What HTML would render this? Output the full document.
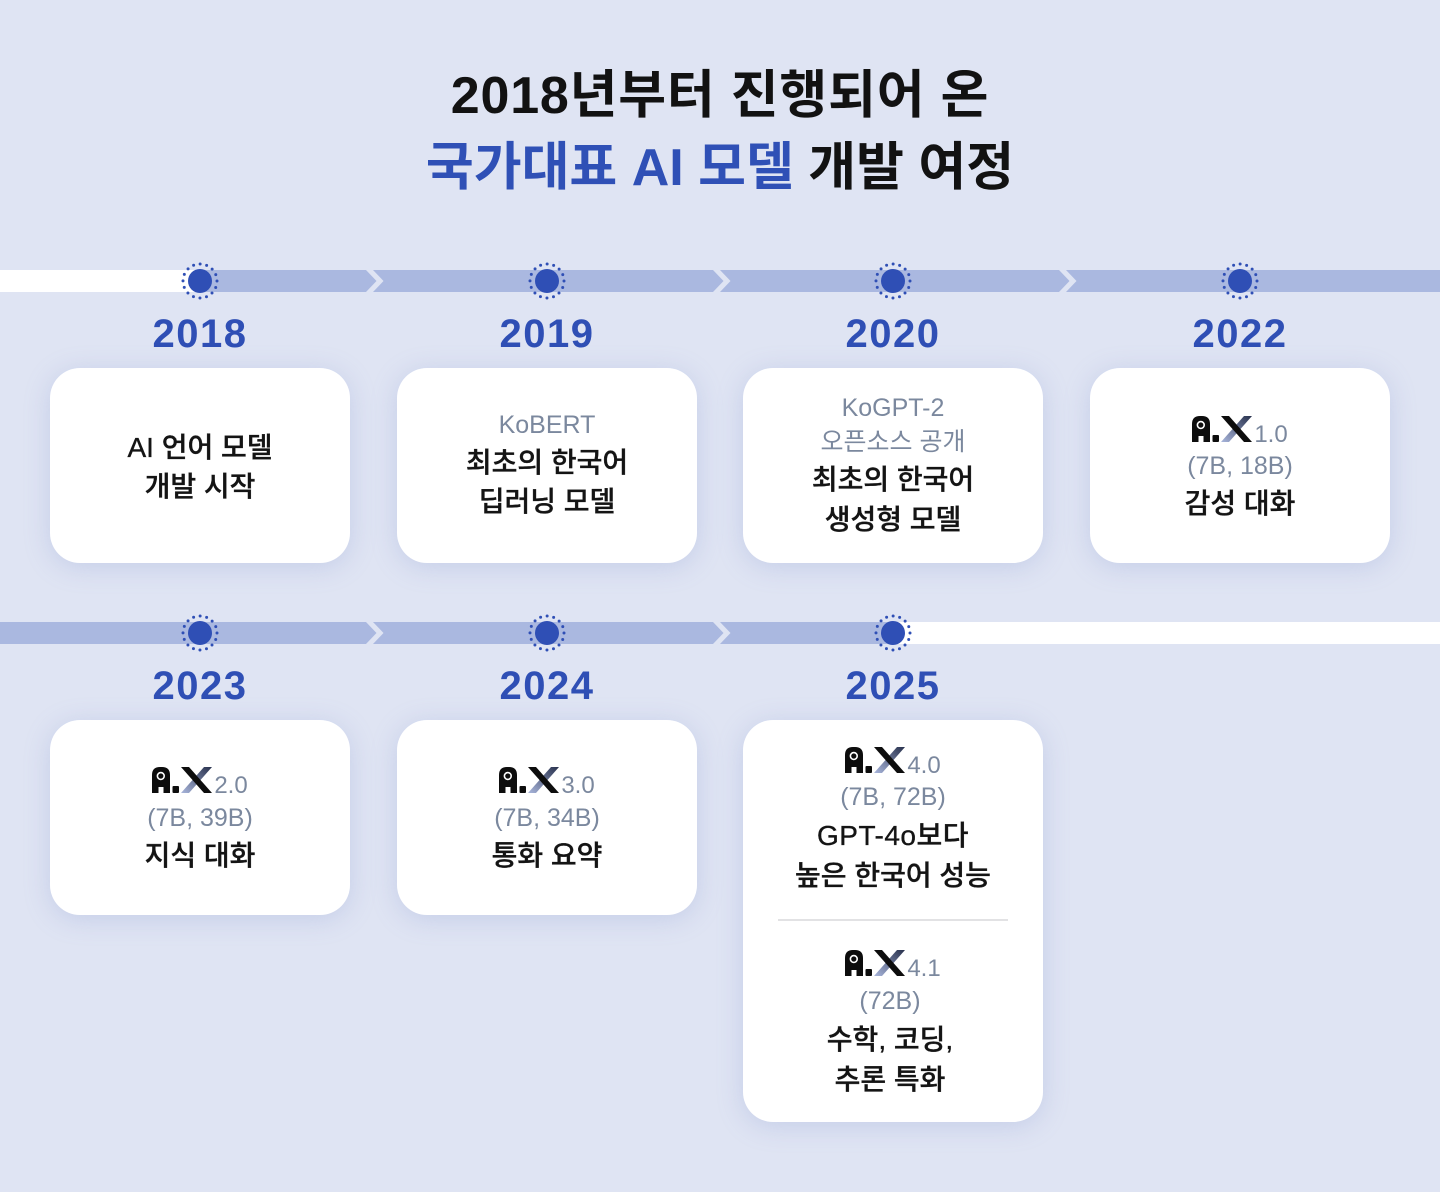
<!DOCTYPE html>
<html lang="ko">
<head>
<meta charset="utf-8">
<style>
  html,body{margin:0;padding:0;}
  body{width:1440px;height:1192px;position:relative;overflow:hidden;background:#dfe4f3;
    font-family:"Liberation Sans","Noto Sans CJK KR",sans-serif;}
  .title{position:absolute;left:0;width:1440px;text-align:center;font-size:52px;font-weight:700;
    line-height:72px;height:72px;color:#121212;white-space:nowrap;}
  .blue{color:#2f50b6;}
  .year{position:absolute;width:200px;text-align:center;font-size:40px;font-weight:700;color:#2f4fb5;
    line-height:50px;height:50px;letter-spacing:1.5px;}
  .card{position:absolute;width:300px;background:#fff;border-radius:30px;
    box-shadow:0 4px 26px rgba(130,148,205,0.28);}
  .l{position:absolute;width:300px;text-align:center;height:40px;line-height:40px;white-space:nowrap;
    font-size:28px;font-weight:500;color:#141414;-webkit-text-stroke:0.35px #141414;}
  .g{font-size:25px;font-weight:400;color:#7b889e;-webkit-text-stroke:0;}
  .logo{position:absolute;width:300px;display:flex;justify-content:center;align-items:baseline;}
  .logo svg{display:block;}
  .logo span{font-size:24px;line-height:24px;color:#7b889e;margin-left:2px;}
  .sep{position:absolute;left:778px;width:230px;height:2px;background:#e2e2e4;top:919px;}
</style>
</head>
<body>

<svg width="1440" height="1192" style="position:absolute;left:0;top:0" xmlns="http://www.w3.org/2000/svg">
  <!-- row 1 -->
  <rect x="0" y="270" width="200" height="22" fill="#ffffff"/>
  <rect x="200" y="270" width="1240" height="22" fill="#aab8e0"/>
  <polygon points="366,270 373,270 383.5,281 373,292 366,292 376.5,281" fill="#dfe4f3"/>
  <polygon points="713,270 720,270 730.5,281 720,292 713,292 723.5,281" fill="#dfe4f3"/>
  <polygon points="1059,270 1066,270 1076.5,281 1066,292 1059,292 1069.5,281" fill="#dfe4f3"/>
  <!-- row 2 -->
  <rect x="0" y="622" width="893" height="22" fill="#aab8e0"/>
  <rect x="893" y="622" width="547" height="22" fill="#ffffff"/>
  <polygon points="366,622 373,622 383.5,633 373,644 366,644 376.5,633" fill="#dfe4f3"/>
  <polygon points="713,622 720,622 730.5,633 720,644 713,644 723.5,633" fill="#dfe4f3"/>
  <!-- dots -->
  <g fill="#2f4fb5">
    <circle cx="200" cy="281" r="12"/>
    <circle cx="547" cy="281" r="12"/>
    <circle cx="893" cy="281" r="12"/>
    <circle cx="1240" cy="281" r="12"/>
    <circle cx="200" cy="633" r="12"/>
    <circle cx="547" cy="633" r="12"/>
    <circle cx="893" cy="633" r="12"/>
  </g>
  <g fill="none" stroke="#2f4fb5" stroke-width="3" stroke-linecap="round" stroke-dasharray="0 6.676">
    <circle cx="200" cy="281" r="17"/>
    <circle cx="547" cy="281" r="17"/>
    <circle cx="893" cy="281" r="17"/>
    <circle cx="1240" cy="281" r="17"/>
    <circle cx="200" cy="633" r="17"/>
    <circle cx="547" cy="633" r="17"/>
    <circle cx="893" cy="633" r="17"/>
  </g>
</svg>

<!-- Title -->
<div class="title" style="top:60px;letter-spacing:0.8px;">2018년부터 진행되어 온</div>
<div class="title" style="top:132px;"><span class="blue">국가대표 AI 모델</span> 개발 여정</div>

<!-- Years row 1 -->
<div class="year" style="left:100px;top:309px;">2018</div>
<div class="year" style="left:447px;top:309px;">2019</div>
<div class="year" style="left:793px;top:309px;">2020</div>
<div class="year" style="left:1140px;top:309px;">2022</div>

<!-- Years row 2 -->
<div class="year" style="left:100px;top:661px;">2023</div>
<div class="year" style="left:447px;top:661px;">2024</div>
<div class="year" style="left:793px;top:661px;">2025</div>

<!-- Cards row 1 -->
<div class="card" style="left:50px;top:368px;height:195px;"></div>
<div class="card" style="left:397px;top:368px;height:195px;"></div>
<div class="card" style="left:743px;top:368px;height:195px;"></div>
<div class="card" style="left:1090px;top:368px;height:195px;"></div>

<!-- Cards row 2 -->
<div class="card" style="left:50px;top:720px;height:195px;"></div>
<div class="card" style="left:397px;top:720px;height:195px;"></div>
<div class="card" style="left:743px;top:720px;height:402px;"></div>

<!-- 2018 -->
<div class="l" style="left:50px;top:428px;">AI 언어 모델</div>
<div class="l" style="left:50px;top:467px;">개발 시작</div>

<!-- 2019 -->
<div class="l g" style="left:397px;top:405px;">KoBERT</div>
<div class="l" style="left:397px;top:443px;">최초의 한국어</div>
<div class="l" style="left:397px;top:482px;">딥러닝 모델</div>

<!-- 2020 -->
<div class="l g" style="left:743px;top:388px;">KoGPT-2</div>
<div class="l g" style="left:743px;top:422px;">오픈소스 공개</div>
<div class="l" style="left:743px;top:460px;">최초의 한국어</div>
<div class="l" style="left:743px;top:500px;">생성형 모델</div>

<!-- 2022 -->
<div class="logo" style="left:1090px;top:416px;">
  <svg width="60" height="26" viewBox="0 0 60 26" xmlns="http://www.w3.org/2000/svg">
    <defs><linearGradient id="gx1" x1="0" y1="1" x2="1" y2="0"><stop offset="0" stop-color="#a9b6dc"/><stop offset="1" stop-color="#27304c"/></linearGradient></defs>
    <path d="M0 26V8Q0 0 8 0H10Q18 0 18 8V26H11.5V20H6.5V26Z" fill="#0d0d0d"/>
    <circle cx="8.8" cy="9" r="4.2" fill="#fff"/><circle cx="8.8" cy="9" r="2.6" fill="#0d0d0d"/>
    <rect x="20.5" y="19" width="6.5" height="7" rx="1" fill="#0d0d0d"/>
    <polygon points="29,26 37,26 60,0 52,0" fill="url(#gx1)"/>
    <polygon points="29,0 37,0 60,26 52,26" fill="#0d0d0d"/>
  </svg><span>1.0</span>
</div>
<div class="l g" style="left:1090px;top:446px;">(7B, 18B)</div>
<div class="l" style="left:1090px;top:484px;">감성 대화</div>

<!-- 2023 -->
<div class="logo" style="left:50px;top:767px;">
  <svg width="60" height="26" viewBox="0 0 60 26" xmlns="http://www.w3.org/2000/svg">
    <defs><linearGradient id="gx2" x1="0" y1="1" x2="1" y2="0"><stop offset="0" stop-color="#a9b6dc"/><stop offset="1" stop-color="#27304c"/></linearGradient></defs>
    <path d="M0 26V8Q0 0 8 0H10Q18 0 18 8V26H11.5V20H6.5V26Z" fill="#0d0d0d"/>
    <circle cx="8.8" cy="9" r="4.2" fill="#fff"/><circle cx="8.8" cy="9" r="2.6" fill="#0d0d0d"/>
    <rect x="20.5" y="19" width="6.5" height="7" rx="1" fill="#0d0d0d"/>
    <polygon points="29,26 37,26 60,0 52,0" fill="url(#gx2)"/>
    <polygon points="29,0 37,0 60,26 52,26" fill="#0d0d0d"/>
  </svg><span>2.0</span>
</div>
<div class="l g" style="left:50px;top:798px;">(7B, 39B)</div>
<div class="l" style="left:50px;top:836px;">지식 대화</div>

<!-- 2024 -->
<div class="logo" style="left:397px;top:767px;">
  <svg width="60" height="26" viewBox="0 0 60 26" xmlns="http://www.w3.org/2000/svg">
    <defs><linearGradient id="gx3" x1="0" y1="1" x2="1" y2="0"><stop offset="0" stop-color="#a9b6dc"/><stop offset="1" stop-color="#27304c"/></linearGradient></defs>
    <path d="M0 26V8Q0 0 8 0H10Q18 0 18 8V26H11.5V20H6.5V26Z" fill="#0d0d0d"/>
    <circle cx="8.8" cy="9" r="4.2" fill="#fff"/><circle cx="8.8" cy="9" r="2.6" fill="#0d0d0d"/>
    <rect x="20.5" y="19" width="6.5" height="7" rx="1" fill="#0d0d0d"/>
    <polygon points="29,26 37,26 60,0 52,0" fill="url(#gx3)"/>
    <polygon points="29,0 37,0 60,26 52,26" fill="#0d0d0d"/>
  </svg><span>3.0</span>
</div>
<div class="l g" style="left:397px;top:798px;">(7B, 34B)</div>
<div class="l" style="left:397px;top:836px;">통화 요약</div>

<!-- 2025 upper -->
<div class="logo" style="left:743px;top:747px;">
  <svg width="60" height="26" viewBox="0 0 60 26" xmlns="http://www.w3.org/2000/svg">
    <defs><linearGradient id="gx4" x1="0" y1="1" x2="1" y2="0"><stop offset="0" stop-color="#a9b6dc"/><stop offset="1" stop-color="#27304c"/></linearGradient></defs>
    <path d="M0 26V8Q0 0 8 0H10Q18 0 18 8V26H11.5V20H6.5V26Z" fill="#0d0d0d"/>
    <circle cx="8.8" cy="9" r="4.2" fill="#fff"/><circle cx="8.8" cy="9" r="2.6" fill="#0d0d0d"/>
    <rect x="20.5" y="19" width="6.5" height="7" rx="1" fill="#0d0d0d"/>
    <polygon points="29,26 37,26 60,0 52,0" fill="url(#gx4)"/>
    <polygon points="29,0 37,0 60,26 52,26" fill="#0d0d0d"/>
  </svg><span>4.0</span>
</div>
<div class="l g" style="left:743px;top:777px;">(7B, 72B)</div>
<div class="l" style="left:743px;top:816px;letter-spacing:0.5px;">GPT-4o보다</div>
<div class="l" style="left:743px;top:856px;">높은 한국어 성능</div>

<div class="sep"></div>

<!-- 2025 lower -->
<div class="logo" style="left:743px;top:950px;">
  <svg width="60" height="26" viewBox="0 0 60 26" xmlns="http://www.w3.org/2000/svg">
    <defs><linearGradient id="gx5" x1="0" y1="1" x2="1" y2="0"><stop offset="0" stop-color="#a9b6dc"/><stop offset="1" stop-color="#27304c"/></linearGradient></defs>
    <path d="M0 26V8Q0 0 8 0H10Q18 0 18 8V26H11.5V20H6.5V26Z" fill="#0d0d0d"/>
    <circle cx="8.8" cy="9" r="4.2" fill="#fff"/><circle cx="8.8" cy="9" r="2.6" fill="#0d0d0d"/>
    <rect x="20.5" y="19" width="6.5" height="7" rx="1" fill="#0d0d0d"/>
    <polygon points="29,26 37,26 60,0 52,0" fill="url(#gx5)"/>
    <polygon points="29,0 37,0 60,26 52,26" fill="#0d0d0d"/>
  </svg><span>4.1</span>
</div>
<div class="l g" style="left:740px;top:981px;">(72B)</div>
<div class="l" style="left:740px;top:1020px;">수학, 코딩,</div>
<div class="l" style="left:740px;top:1060px;">추론 특화</div>

</body>
</html>
